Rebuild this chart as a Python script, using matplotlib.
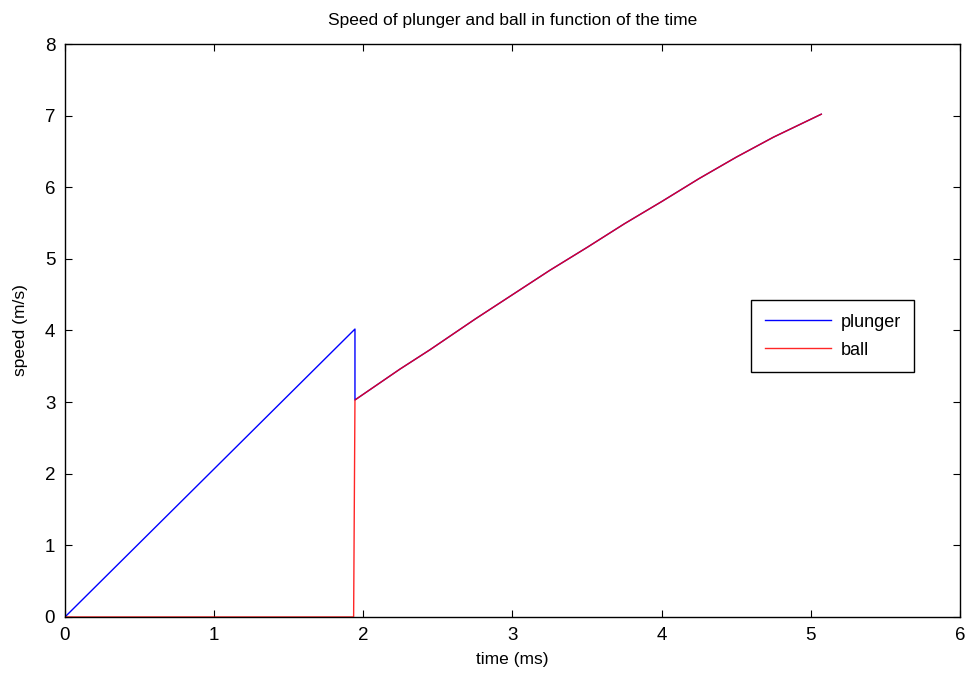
import matplotlib.pyplot as plt

plt.rcParams['font.family'] = ['Liberation Sans', 'DejaVu Sans']

# values (time in ms, speed in m/s)
plunger_t = [0.0, 1.944, 1.944, 2.245, 2.446, 2.75, 3.0, 3.25, 3.5, 3.75, 4.0, 4.25, 4.5, 4.75, 5.07]
plunger_v = [0.0, 4.02, 3.03, 3.46, 3.73, 4.16, 4.50, 4.84, 5.16, 5.49, 5.80, 6.12, 6.42, 6.70, 7.02]
ball_t = [0.0, 1.935, 1.944, 2.245, 2.446, 2.75, 3.0, 3.25, 3.5, 3.75, 4.0, 4.25, 4.5, 4.75, 5.07]
ball_v = [0.0, 0.0, 3.03, 3.46, 3.73, 4.16, 4.50, 4.84, 5.16, 5.49, 5.80, 6.12, 6.42, 6.70, 7.02]

x_ticks = [0, 1, 2, 3, 4, 5, 6]
y_ticks = [0, 1, 2, 3, 4, 5, 6, 7, 8]

fig = plt.figure(figsize=(9.71, 6.76), dpi=100)
ax = fig.add_axes([0.0669, 0.0873, 0.9218, 0.8476])

ax.plot(plunger_t, plunger_v, color='blue', linewidth=1, label='plunger')
ax.plot(ball_t, ball_v, color='red', linewidth=1, alpha=0.85, label='ball')

ax.set_xlim(0, 6)
ax.set_ylim(0, 8)
ax.set_xticks(x_ticks)
ax.set_yticks(y_ticks)
ax.tick_params(direction='in', top=True, right=True, length=5, labelsize=13.5, pad=7)
for s in ax.spines.values():
    s.set_linewidth(1)

ax.set_title('Speed of plunger and ball in function of the time', fontsize=12.5, pad=14)
ax.set_xlabel('time (ms)', fontsize=12.5, labelpad=6)
ax.set_ylabel('speed (m/s)', fontsize=12.5, labelpad=12)

leg = ax.legend(loc='upper left', bbox_to_anchor=(0.7665, 0.553), fontsize=13,
                fancybox=False, framealpha=1, edgecolor='black', borderaxespad=0,
                handlelength=3.7, handletextpad=0.5, borderpad=0.75, labelspacing=0.6)
leg.get_frame().set_linewidth(1)

plt.savefig('out.png', dpi=100)
